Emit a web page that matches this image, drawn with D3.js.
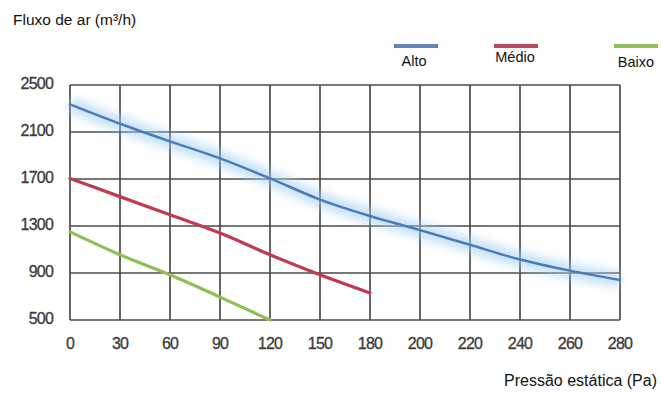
<!DOCTYPE html>
<html><head><meta charset="utf-8">
<script src="https://cdn.jsdelivr.net/npm/d3@7"></script>
<style>body{margin:0;background:#fff}svg{display:block}</style>
</head><body>
<svg id="c" width="661" height="394"></svg>
<script>
const categories = ["0","30","60","90","120","150","180","200","220","240","260","280"];
const yTicks = [500, 900, 1300, 1700, 2100, 2500];
const alto  = [2335, 2170, 2020, 1875, 1705, 1525, 1385, 1265, 1140, 1015, 920, 840];
const medio = [1705, 1550, 1395, 1240, 1055, 885, 730];
const baixo = [1250, 1055, 885, 695, 500];
const seriesNames = ["Alto", "Médio", "Baixo"];
const seriesColors = ["#4a7cbd", "#c03c4c", "#8dbf55"];
const legendColors = ["#6684b8", "#b8485a", "#8cbf5c"];

const svg = d3.select("#c");
const x = d3.scalePoint().domain(categories).range([70, 620]);
const y = d3.scaleLinear().domain([500, 2500]).range([320, 85]);
const FONT = "Liberation Sans, Arial, sans-serif";

const defs = svg.append("defs");
defs.append("filter").attr("id","blur").attr("x","-10%").attr("y","-50%").attr("width","120%").attr("height","200%")
  .append("feGaussianBlur").attr("stdDeviation", 4);

// grid
const g = svg.append("g");
g.selectAll("line.h").data(yTicks).join("line")
  .attr("x1", 70).attr("x2", 620).attr("y1", d => y(d)).attr("y2", d => y(d))
  .attr("stroke", "#4a4a4a").attr("stroke-width", 1.7);
g.selectAll("line.v").data(categories).join("line")
  .attr("x1", d => x(d)).attr("x2", d => x(d)).attr("y1", y(2500)).attr("y2", y(500))
  .attr("stroke", "#4a4a4a").attr("stroke-width", 1.7);

// tick labels
svg.append("g").selectAll("text").data(yTicks).join("text")
  .attr("x", 53).attr("y", d => y(d) + 4).attr("text-anchor", "end")
  .attr("font-family", FONT).attr("font-size", 16)
  .attr("fill", "#3a3a3a").attr("stroke", "#3a3a3a").attr("stroke-width", 0.3).attr("letter-spacing", -0.8)
  .text(d => d);
svg.append("g").selectAll("text").data(categories).join("text")
  .attr("x", d => x(d)).attr("y", 349).attr("text-anchor", "middle")
  .attr("font-family", FONT).attr("font-size", 16)
  .attr("fill", "#3a3a3a").attr("stroke", "#3a3a3a").attr("stroke-width", 0.3).attr("letter-spacing", -0.8)
  .text(d => d);

const line = d3.line().x((d,i) => x(categories[i])).y(d => y(d)).curve(d3.curveMonotoneX);

// glow behind Alto
svg.append("path").datum(alto).attr("d", line).attr("fill","none")
  .attr("stroke", "#9fcdf0").attr("stroke-width", 16).attr("opacity", 0.55)
  .attr("filter", "url(#blur)");

[alto, medio, baixo].forEach((s, i) => {
  svg.append("path").datum(s).attr("d", line).attr("fill", "none")
    .attr("stroke", seriesColors[i]).attr("stroke-width", i === 0 ? 2.5 : 3.2)
    .attr("stroke-linecap", "round");
});

// legend
const legX = [394, 494, 614];
const labX = [414, 515, 636];
const labY = [66, 62, 67];
seriesNames.forEach((n, i) => {
  svg.append("line").attr("x1", legX[i]).attr("x2", legX[i] + 44).attr("y1", 46).attr("y2", 46)
    .attr("stroke", legendColors[i]).attr("stroke-width", 4);
  svg.append("text").attr("x", labX[i]).attr("y", labY[i]).attr("text-anchor", "middle")
    .attr("font-family", FONT).attr("font-size", 14.5)
    .attr("fill", "#111").text(n);
});

svg.append("text").attr("x", 13).attr("y", 25)
  .attr("font-family", FONT).attr("font-size", 15.5)
  .attr("fill", "#111").text("Fluxo de ar (m³/h)");
svg.append("text").attr("x", 657).attr("y", 386).attr("text-anchor", "end")
  .attr("font-family", FONT).attr("font-size", 16)
  .attr("fill", "#111").text("Pressão estática (Pa)");
</script>
</body></html>
